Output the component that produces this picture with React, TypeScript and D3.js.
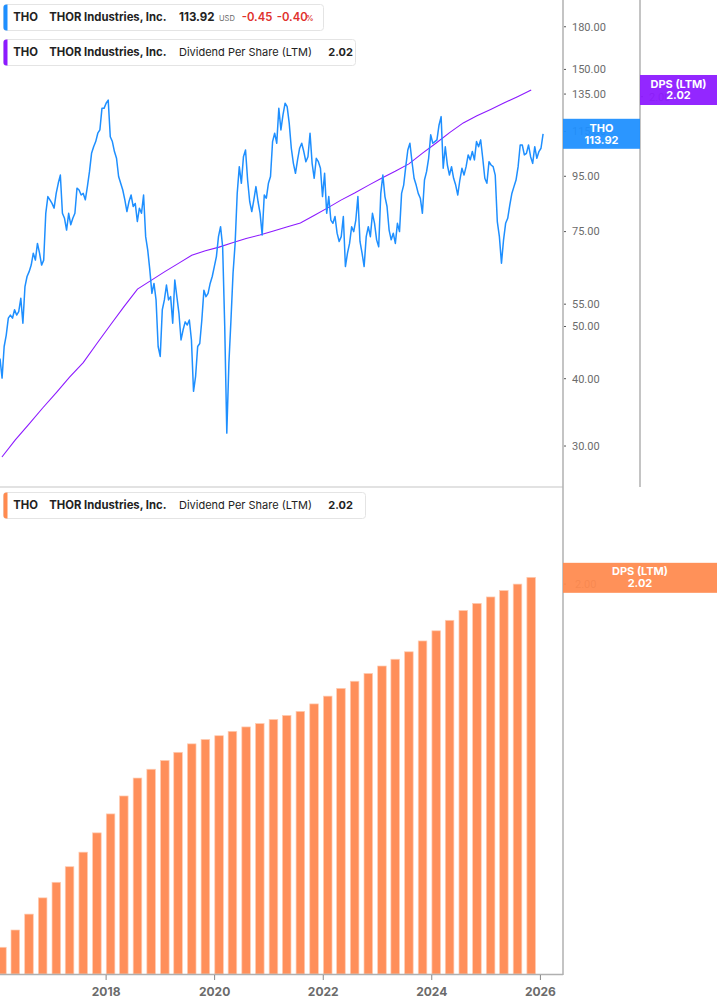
import * as d3 from "d3";

// LTM dividend per share, fiscal quarter ends Jan 2016 .. Oct 2025
const dpsValues = [
  0.927, 0.978, 1.025, 1.073, 1.119, 1.165, 1.208, 1.265, 1.321, 1.374,
  1.427, 1.453, 1.479, 1.503, 1.528, 1.541, 1.552, 1.565, 1.578, 1.588,
  1.6, 1.612, 1.624, 1.646, 1.669, 1.692, 1.713, 1.736, 1.758, 1.778,
  1.8, 1.832, 1.862, 1.893, 1.922, 1.943, 1.962, 1.981, 2.0, 2.02,
];

// THO close, every two weeks from 18 Jan 2016
const priceValues = [
  43.6, 40.1, 45.9, 48.2, 51.8, 52.5, 51.8, 53.7, 52.5, 53.3,
  56.4, 50.7, 59.3, 61.9, 63.2, 65.0, 68.4, 66.4, 71.3, 68.4,
  65.0, 66.4, 81.1, 87.1, 85.9, 84.6, 82.9, 88.3, 92.2, 95.5,
  81.1, 79.4, 75.5, 81.1, 77.2, 79.4, 81.1, 90.3, 89.6, 87.7,
  88.3, 85.9, 90.9, 96.9, 104.8, 107.8, 110.2, 114.2, 115.8, 127.0,
  127.0, 129.8, 131.6, 112.5, 110.2, 105.6, 102.6, 94.9, 92.2, 89.6,
  85.9, 81.7, 85.3, 87.7, 83.5, 84.6, 78.3, 82.9, 81.1, 87.7,
  73.4, 69.3, 63.7, 57.6, 60.1, 56.0, 45.9, 44.0, 53.7, 56.0,
  59.7, 56.0, 56.8, 50.7, 61.0, 56.8, 52.9, 47.2, 49.3, 51.0,
  50.3, 51.4, 47.2, 37.9, 40.4, 45.9, 46.5, 51.4, 58.4, 56.8,
  57.6, 60.1, 61.9, 64.6, 67.4, 73.4, 76.6, 70.3, 50.0, 31.7,
  42.7, 51.4, 62.8, 71.3, 88.3, 99.0, 92.2, 103.3, 106.3, 93.5,
  85.3, 81.7, 85.9, 90.9, 85.3, 81.1, 73.9, 87.7, 86.5, 92.2,
  94.9, 110.2, 114.2, 109.4, 127.0, 115.8, 123.5, 129.8, 127.9, 119.1,
  107.1, 100.4, 96.2, 101.9, 107.1, 109.4, 105.6, 101.1, 103.3, 114.2,
  100.4, 94.2, 102.6, 101.1, 98.3, 87.1, 96.2, 81.1, 87.1, 78.8,
  77.7, 80.0, 74.5, 71.9, 73.4, 80.0, 64.6, 68.4, 71.3, 76.6,
  75.0, 78.8, 87.1, 71.9, 68.4, 64.6, 73.4, 76.6, 73.4, 81.1,
  77.7, 72.4, 70.3, 88.3, 95.5, 87.1, 83.5, 75.5, 72.4, 74.5,
  71.3, 77.7, 75.0, 88.3, 91.5, 99.0, 106.3, 109.4, 101.1, 94.2,
  91.5, 88.3, 86.5, 81.1, 93.5, 96.9, 102.6, 113.4, 109.4, 110.2,
  111.0, 118.3, 122.6, 98.3, 107.8, 99.7, 95.5, 99.0, 94.2, 91.5,
  87.7, 93.5, 98.3, 95.5, 99.0, 104.1, 101.9, 105.6, 101.9, 110.2,
  107.8, 111.0, 102.6, 94.2, 92.2, 101.1, 99.7, 99.0, 95.5, 78.3,
  73.4, 65.5, 72.4, 77.7, 79.4, 84.0, 88.3, 90.9, 93.5, 99.0,
  108.6, 108.6, 104.1, 104.8, 108.6, 103.3, 100.4, 107.8, 102.6, 105.6,
  107.1, 113.92,
];

const priceTicks = [30, 40, 50, 55, 75, 95, 115, 135, 150, 180];
const dpsTicks = [2.0];
const yearTicks = [2018, 2020, 2022, 2024, 2026];

const lastPrice = 113.92;
const lastDps = 2.02;

const PLOT_RIGHT = 563;
const AXIS2_X = 640;
const TOP_BOTTOM = 487;
const BASE = 974;
const SANS = "Inter, 'Noto Sans', sans-serif";
const TICK_FONT = "Roboto, Arial, sans-serif";

const BLUE = "#1e8fff";
const PURPLE = "#8c1aff";
const ORANGE = "#ff8a4f";

const priceStart = new Date(2016, 0, 18);
const priceDates = priceValues.map((_, i) => d3.timeDay.offset(priceStart, 14 * i));
const dpsDates = d3
  .timeMonth.range(new Date(2016, 1, 1), new Date(2025, 11, 1), 3)
  .map((d) => d3.timeDay.offset(d, -1));

function Legend({ y, w, color, children }: { y: number; w: number; color: string; children: any }) {
  return (
    <g transform={`translate(3.5,${y})`}>
      <rect width={w} height={26} rx={3} fill="white" stroke="#e4e4e4" />
      <path d="M3,0 h1 v26 h-1 a3,3 0 0 1 -3,-3 v-20 a3,3 0 0 1 3,-3z" fill={color} />
      <g fontFamily={SANS} fontSize={11} fill="#222">{children}</g>
    </g>
  );
}

export default function App() {
  const x = d3.scaleTime().domain([new Date(2016, 0, 18), new Date(2026, 5, 2)]).range([0, PLOT_RIGHT]);
  const yPrice = d3.scaleLog().domain([25.18, 201.8]).range([TOP_BOTTOM, 0]);
  const yDpsTop = d3.scaleLinear().domain([0.8377, 2.288]).range([TOP_BOTTOM, 0]);
  const yDpsBar = d3.scaleLinear().domain([0.848, 2.278]).range([BASE, 490]);

  const priceLine = d3
    .line<number>()
    .x((_, i) => x(priceDates[i]))
    .y((d) => yPrice(d))(priceValues);
  const dpsLine = d3
    .line<number>()
    .x((_, i) => x(dpsDates[i]))
    .y((d) => yDpsTop(d))(dpsValues);

  const barW = 8.6;

  return (
    <div style={{ position: "absolute", left: 0, top: 0 }}>
      <svg width={717} height={1005} style={{ display: "block", background: "white" }}>
        <defs>
          <clipPath id="topClip">
            <rect x={0} y={0} width={PLOT_RIGHT} height={TOP_BOTTOM} />
          </clipPath>
        </defs>

        {/* panels */}
        <line x1={0} x2={PLOT_RIGHT} y1={TOP_BOTTOM} y2={TOP_BOTTOM} stroke="#e2e2e2" strokeWidth={2} />

        <g clipPath="url(#topClip)">
          <path d={dpsLine!} fill="none" stroke={PURPLE} strokeWidth={1.1} />
          <path d={priceLine!} fill="none" stroke={BLUE} strokeWidth={1.5} strokeLinejoin="round" />
        </g>

        {/* bars */}
        {dpsValues.map((v, i) => (
          <rect
            key={i}
            x={x(dpsDates[i]) - barW / 2}
            y={yDpsBar(v)}
            width={barW}
            height={BASE - yDpsBar(v)}
            fill="#ff8f5a"
            stroke="#ffcdb4"
            strokeWidth={0.7}
          />
        ))}

        {/* axes lines */}
        <line x1={0} x2={PLOT_RIGHT} y1={BASE + 0.5} y2={BASE + 0.5} stroke="#b0b0b0" strokeWidth={1.5} />
        <line x1={PLOT_RIGHT} x2={PLOT_RIGHT} y1={0} y2={BASE + 1} stroke="#b0b0b0" strokeWidth={1.5} />
        <line x1={AXIS2_X} x2={AXIS2_X} y1={0} y2={TOP_BOTTOM} stroke="#b0b0b0" strokeWidth={1.5} />

        {/* price axis */}
        {priceTicks.map((t) => (
          <g key={t} transform={`translate(${PLOT_RIGHT},${yPrice(t)})`}>
            <line x1={1} x2={3} stroke="#555" />
            <text x={9} dy="0.35em" fontFamily={TICK_FONT} fontSize={11} fill="#6b6b6b">
              {t.toFixed(2)}
            </text>
          </g>
        ))}
        {/* dps axis (top) */}
        {dpsTicks.map((t) => (
          <g key={t} transform={`translate(${AXIS2_X},${yDpsTop(t)})`}>
            <line x1={1} x2={3} stroke="#555" />
            <text x={9} dy="0.35em" fontFamily={TICK_FONT} fontSize={11} fill="#6b6b6b">
              {t.toFixed(2)}
            </text>
          </g>
        ))}
        {/* dps axis (bottom) */}
        {dpsTicks.map((t) => (
          <g key={t} transform={`translate(${PLOT_RIGHT},${yDpsBar(t)})`}>
            <line x1={1} x2={3} stroke="#555" />
            <text x={12} dy="0.35em" fontFamily={TICK_FONT} fontSize={11} fill="#6b6b6b">
              {t.toFixed(2)}
            </text>
          </g>
        ))}

        {/* year axis */}
        {yearTicks.map((yr) => {
          const xx = x(new Date(yr, 0, 1));
          return (
            <g key={yr} transform={`translate(${xx},${BASE})`}>
              <line y1={1} y2={6} stroke="#888" />
              <text y={21.5} textAnchor="middle" fontFamily={SANS} fontSize={12} fontWeight={700} fill="#6b6b6b">
                {yr}
              </text>
            </g>
          );
        })}

        {/* value flags */}
        <g fontFamily={SANS} fontSize={11} fontWeight={700} fill="white" textAnchor="middle">
          <rect x={PLOT_RIGHT} y={yPrice(lastPrice) - 15} width={77} height={30} fill={BLUE} fillOpacity={0.94} />
          <text x={601.5} y={yPrice(lastPrice) - 2}>THO</text>
          <text x={601.5} y={yPrice(lastPrice) + 10}>{lastPrice.toFixed(2)}</text>

          <rect x={AXIS2_X} y={yDpsTop(lastDps) - 15} width={77} height={30} fill={PURPLE} fillOpacity={0.94} />
          <text x={678.5} y={yDpsTop(lastDps) - 2}>DPS (LTM)</text>
          <text x={678.5} y={yDpsTop(lastDps) + 9}>{lastDps.toFixed(2)}</text>

          <rect x={PLOT_RIGHT} y={yDpsBar(lastDps) - 14.5} width={154} height={30} fill={ORANGE} fillOpacity={0.94} />
          <text x={640} y={yDpsBar(lastDps) - 2}>DPS (LTM)</text>
          <text x={640} y={yDpsBar(lastDps) + 9.5}>{lastDps.toFixed(2)}</text>
        </g>

        {/* legends */}
        <Legend y={4.5} w={320} color={BLUE}>
          <text x={9.8} y={16.3} fontWeight={700} fontSize={11.3}>THO</text>
          <text x={45.8} y={16.3} fontWeight={700} fontSize={11.3}>THOR Industries, Inc.</text>
          <text x={175.5} y={16.3} fontWeight={700} fontSize={11.5}>{lastPrice.toFixed(2)}</text>
          <text x={215.5} y={16.3} fontSize={7.5} fill="#666">USD</text>
          <text x={238.2} y={16.3} fontWeight={600} fontSize={11.3} fill="#e0302c">-0.45</text>
          <text x={273.2} y={16.3} fontWeight={600} fontSize={11.3} fill="#e0302c">-0.40</text>
          <text x={302.6} y={16.3} fontWeight={600} fontSize={7.5} fill="#e0302c">%</text>
        </Legend>
        <Legend y={39.5} w={352} color={PURPLE}>
          <text x={9.8} y={16.3} fontWeight={700} fontSize={11.3}>THO</text>
          <text x={45.8} y={16.3} fontWeight={700} fontSize={11.3}>THOR Industries, Inc.</text>
          <text x={175.5} y={16.3}>Dividend Per Share (LTM)</text>
          <text x={324.8} y={16.3} fontWeight={700}>{lastDps.toFixed(2)}</text>
        </Legend>
        <Legend y={492.5} w={362} color={ORANGE}>
          <text x={9.8} y={16.3} fontWeight={700} fontSize={11.3}>THO</text>
          <text x={45.8} y={16.3} fontWeight={700} fontSize={11.3}>THOR Industries, Inc.</text>
          <text x={175.5} y={16.3}>Dividend Per Share (LTM)</text>
          <text x={324.8} y={16.3} fontWeight={700}>{lastDps.toFixed(2)}</text>
        </Legend>
      </svg>
    </div>
  );
}
